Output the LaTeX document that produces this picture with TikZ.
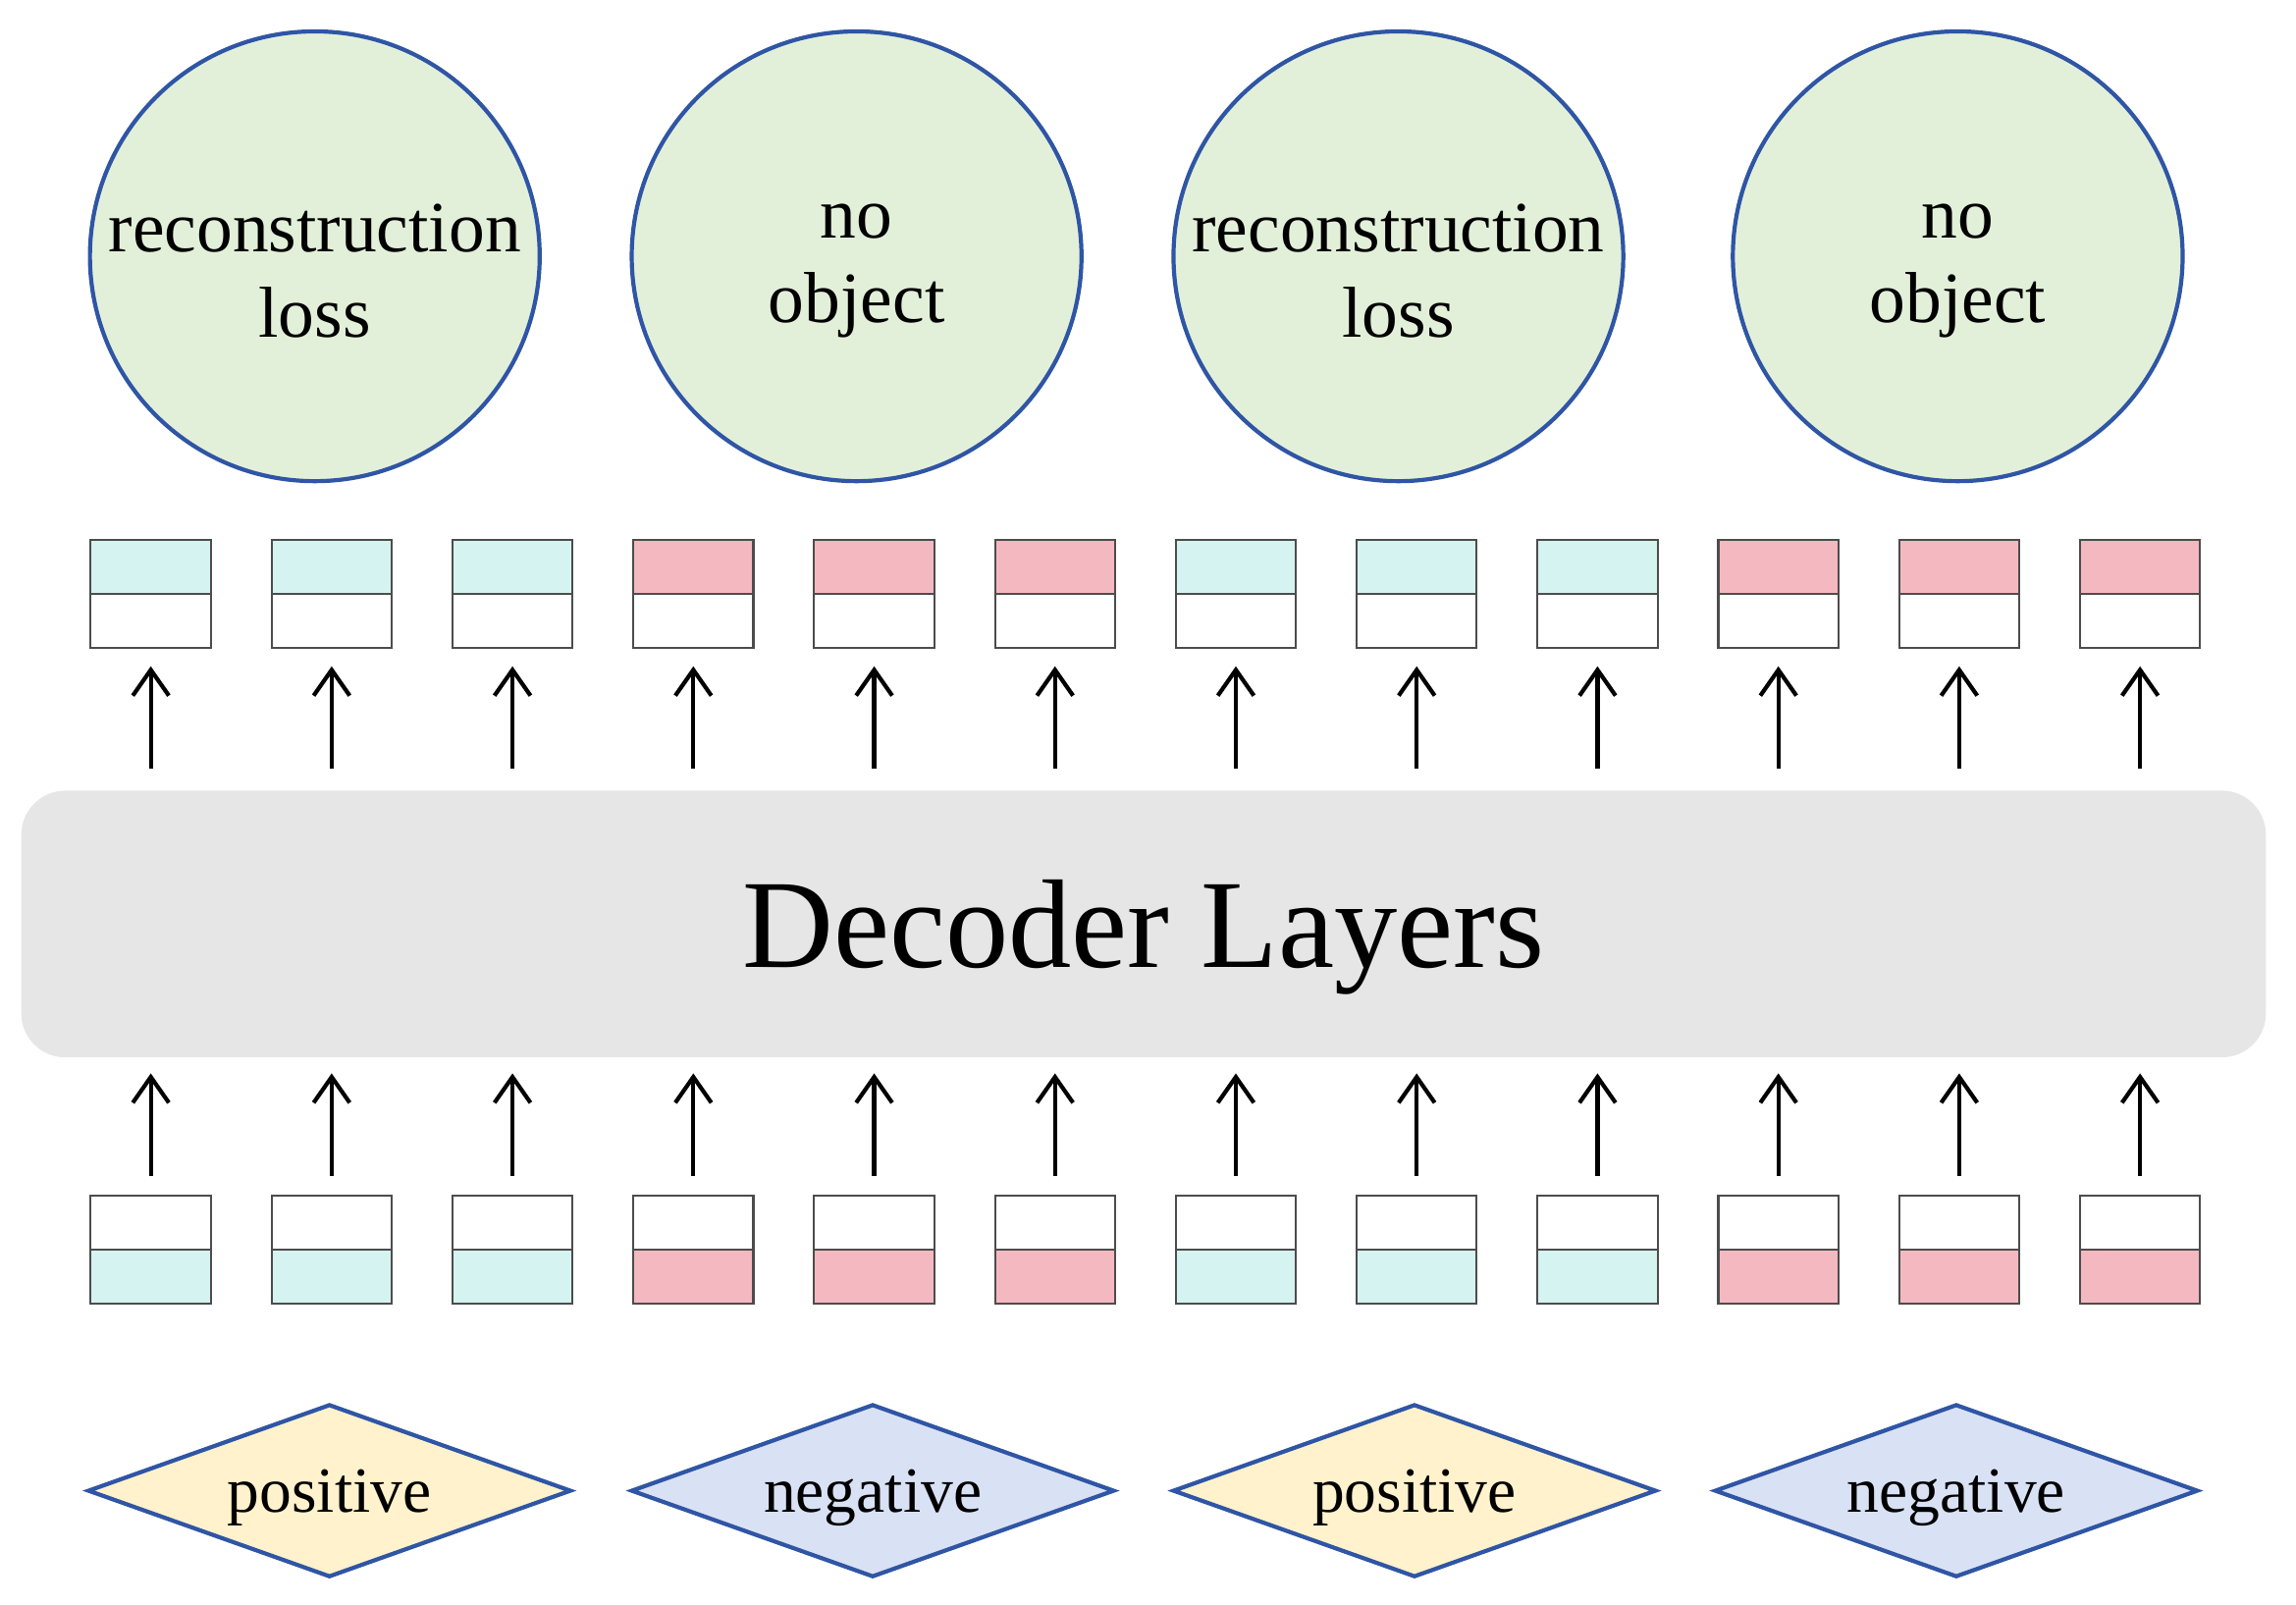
\documentclass[tikz,border=0pt]{standalone}
\usepackage{fontspec}
\setmainfont{Liberation Serif}
\usetikzlibrary{shapes.geometric,arrows.meta}
\definecolor{circf}{HTML}{E3F0D9}
\definecolor{bord}{HTML}{2F55A5}
\definecolor{cy}{HTML}{D5F3F0}
\definecolor{pk}{HTML}{F4B8C0}
\definecolor{dec}{HTML}{E6E6E6}
\definecolor{yel}{HTML}{FFF2CC}
\definecolor{blu}{HTML}{D9E1F4}
\begin{document}
\begin{tikzpicture}[x=0.01cm,y=-0.01cm,
 circ/.style={circle,draw=bord,line width=0.8pt,fill=circf,minimum size=3.07cm,inner sep=0pt},
 ctxt/.style={align=center,inner sep=0pt,font=\fontsize{14}{16.5}\selectfont},
 half/.style={draw=black!70,line width=0.4pt,minimum width=0.82cm,minimum height=0.37cm,inner sep=0pt},
 dia/.style={diamond,draw=bord,line width=0.8pt,minimum width=3.3cm,minimum height=1.18cm,inner sep=0pt,aspect=2.8,font=\fontsize{12.5}{15}\selectfont},
 arr/.style={-{Straight Barb[length=5pt,width=7pt]},line width=0.8pt}]
\useasboundingbox (0,0) rectangle (1568,1096);
\foreach \n/\x/\t in {1/215/{reconstruction\\loss},2/585/{no\\object},3/955/{reconstruction\\loss},4/1337/{no\\object}}{
  \node[circ] (c\n) at (\x,175) {};
  \node[ctxt] (ct\n) at ([yshift=-0.1cm]c\n.center) {\t};
}
\node[fill=dec,rounded corners=0.3cm,minimum width=15.32cm,minimum height=1.82cm] (dec) at (781,631) {};
\node[font=\fontsize{24.5}{28}\selectfont] (dect) at ([yshift=-0.09cm]dec.center) {Decoder Layers};
\foreach \i/\c in {0/cy,1/cy,2/cy,3/pk,4/pk,5/pk,6/cy,7/cy,8/cy,9/pk,10/pk,11/pk}{
  \pgfmathsetmacro\x{103+123.5*\i}
  \node[half,fill=\c] (tt\i) at (\x,387) {};
  \node[half,fill=white] (tb\i) at (\x,424) {};
  \node[half,fill=white] (bt\i) at (\x,835) {};
  \node[half,fill=\c] (bb\i) at (\x,872) {};
  \coordinate (a\i) at (\x,525); \coordinate (b\i) at (\x,455);
  \coordinate (c\i) at (\x,803); \coordinate (d\i) at (\x,733);
  \draw[arr] (a\i) -- (b\i);
  \draw[arr] (c\i) -- (d\i);
}
\foreach \n/\x/\f/\t in {1/225/yel/positive,2/596/blu/negative,3/966/yel/positive,4/1336/blu/negative}{
  \node[dia,fill=\f] (d\n) at (\x,1018) {};
  \node[font=\fontsize{12.5}{15}\selectfont,inner sep=0pt] (dt\n) at ([yshift=-0.05cm]d\n.center) {\t};
}
\end{tikzpicture}
\end{document}
